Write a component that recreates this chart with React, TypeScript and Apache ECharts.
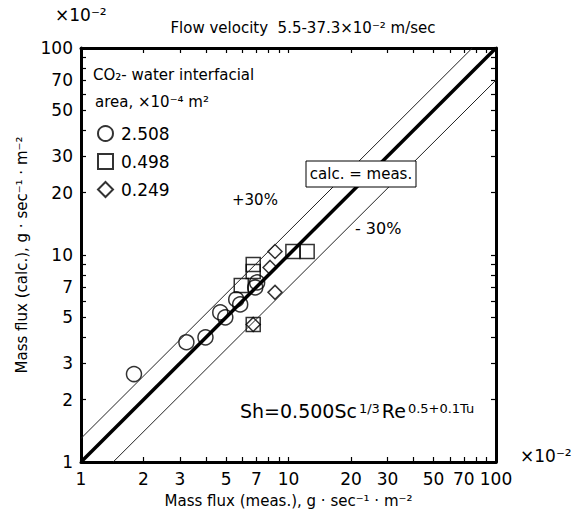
import React, { useEffect, useRef } from "react";
import * as echarts from "echarts";

const TICK_VALUES = [1, 2, 3, 4, 5, 6, 7, 8, 9, 10, 20, 30, 40, 50, 60, 70, 80, 90, 100];
const TICK_LABELS = [1, 2, 3, 5, 7, 10, 20, 30, 50, 70, 100];

// [meas, calc] in ×10^-2 g·sec^-1·m^-2
const AREA_2508: [number, number][] = [
  [1.8, 2.66], [3.22, 3.79], [3.98, 4.0], [4.69, 5.28], [4.96, 5.0],
  [5.6, 6.1], [5.85, 5.77], [6.91, 6.97], [7.06, 7.37],
];
const AREA_0498: [number, number][] = [
  [5.92, 7.13], [6.76, 9.0], [6.76, 8.33], [10.5, 10.4], [12.3, 10.4], [6.76, 4.62],
];
const AREA_0249: [number, number][] = [
  [8.61, 10.4], [8.15, 8.71], [8.61, 6.6], [6.76, 4.62],
];
const LINE_EQUAL: [number, number][] = [[1, 1], [100, 100]];
const LINE_PLUS30: [number, number][] = [[1, 1.3], [100 / 1.3, 100]];
const LINE_MINUS30: [number, number][] = [[1 / 0.7, 1], [100, 70]];

const FONT = "DejaVu Sans";

export default function App() {
  const ref = useRef<HTMLDivElement>(null);
  useEffect(() => {
    document.body.style.margin = "0";
    if (!ref.current) return;
    const chart = echarts.init(ref.current, null, { renderer: "svg" });
    const axisCommon = (pos: string, showLabel: boolean) => ({
      type: "log",
      logBase: 10,
      min: 1,
      max: 100,
      position: pos,
      axisLine: { show: true, onZero: false, lineStyle: { color: "#000", width: 3 } },
      axisTick: {
        show: true,
        inside: true,
        length: 5,
        customValues: TICK_VALUES,
        lineStyle: { color: "#000", width: 1.2 },
      },
      minorTick: { show: false },
      splitLine: { show: false },
      axisLabel: {
        show: showLabel,
        customValues: TICK_LABELS,
        color: "#000",
        fontSize: 17,
        fontFamily: FONT,
        margin: 8,
        formatter: (v: number) => String(Math.round(v)),
      },
    });
    const markerStyle = { color: "rgba(0,0,0,0)", borderColor: "#000", borderWidth: 1.5 };
    chart.setOption({
      animation: false,
      backgroundColor: "#fff",
      grid: { left: 81, top: 48, right: 91, bottom: 53, containLabel: false },
      xAxis: [
        {
          ...axisCommon("bottom", true),
          name: "Mass flux (meas.), g · sec⁻¹ · m⁻²",
          nameLocation: "middle",
          nameGap: 31,
          nameTextStyle: { color: "#000", fontSize: 15, fontFamily: FONT },
        },
        axisCommon("top", false),
      ],
      yAxis: [
        {
          ...axisCommon("left", true),
          name: "Mass flux (calc.), g · sec⁻¹ · m⁻²",
          nameLocation: "middle",
          nameGap: 52,
          nameTextStyle: { color: "#000", fontSize: 15, fontFamily: FONT },
        },
        axisCommon("right", false),
      ],
      legend: {
        orient: "vertical",
        left: 92,
        top: 120,
        itemGap: 11,
        itemWidth: 15,
        itemHeight: 15,
        data: ["2.508", "0.498", "0.249"],
        textStyle: { color: "#000", fontSize: 17, fontFamily: FONT, padding: [0, 0, 0, 3] },
      },
      series: [
        {
          type: "line",
          data: LINE_EQUAL,
          symbol: "none",
          lineStyle: { color: "#000", width: 3.5 },
          silent: true,
        },
        {
          type: "line",
          data: LINE_PLUS30,
          symbol: "none",
          lineStyle: { color: "#222", width: 1 },
          silent: true,
        },
        {
          type: "line",
          data: LINE_MINUS30,
          symbol: "none",
          lineStyle: { color: "#222", width: 1 },
          silent: true,
        },
        {
          name: "2.508",
          type: "scatter",
          data: AREA_2508,
          symbol: "circle",
          symbolSize: 15,
          itemStyle: markerStyle,
        },
        {
          name: "0.498",
          type: "scatter",
          data: AREA_0498,
          symbol: "rect",
          symbolSize: 14,
          itemStyle: markerStyle,
        },
        {
          name: "0.249",
          type: "scatter",
          data: AREA_0249,
          symbol: "diamond",
          symbolSize: [14, 14],
          itemStyle: markerStyle,
        },
      ],
      graphic: [
        {
          type: "text",
          x: 303,
          y: 28,
          style: {
            text: "Flow velocity  5.5-37.3×10⁻² m/sec",
            fill: "#000",
            font: `15px "${FONT}"`,
            textAlign: "center",
            textVerticalAlign: "middle",
          },
        },
        {
          type: "text",
          x: 55,
          y: 15,
          style: { text: "×10⁻²", fill: "#000", font: `17px "${FONT}"`, textVerticalAlign: "middle" },
        },
        {
          type: "text",
          x: 520,
          y: 456,
          style: { text: "×10⁻²", fill: "#000", font: `17px "${FONT}"`, textVerticalAlign: "middle" },
        },
        {
          type: "text",
          x: 93,
          y: 75,
          style: { text: "CO₂- water interfacial", fill: "#000", font: `15px "${FONT}"`, textVerticalAlign: "middle" },
        },
        {
          type: "text",
          x: 95,
          y: 102,
          style: { text: "area, ×10⁻⁴ m²", fill: "#000", font: `15px "${FONT}"`, textVerticalAlign: "middle" },
        },
        {
          type: "text",
          x: 232,
          y: 200,
          style: { text: "+30%", fill: "#000", font: `15px "${FONT}"`, textVerticalAlign: "middle" },
        },
        {
          type: "text",
          x: 355,
          y: 228,
          style: { text: "- 30%", fill: "#000", font: `16px "${FONT}"`, textVerticalAlign: "middle" },
        },
        {
          type: "rect",
          shape: { x: 306, y: 161, width: 110, height: 26 },
          style: { fill: "#fff", stroke: "#000", lineWidth: 1 },
          z: 10,
        },
        {
          type: "text",
          x: 361,
          y: 174,
          z: 11,
          style: {
            text: "calc. = meas.",
            fill: "#000",
            font: `15px "${FONT}"`,
            textAlign: "center",
            textVerticalAlign: "middle",
          },
        },
        {
          type: "text",
          x: 240,
          y: 411,
          style: {
            text: "{b|Sh=0.500Sc}{s|1/3}{b|Re}{s|0.5+0.1Tu}",
            rich: {
              b: { fontSize: 19, fontFamily: FONT, fill: "#000", verticalAlign: "bottom", padding: [0, 1, 0, 0] },
              s: { fontSize: 13, fontFamily: FONT, fill: "#000", verticalAlign: "top", padding: [0, 2, 0, 1] },
            },
            textVerticalAlign: "middle",
          },
        },
      ],
    });
    return () => chart.dispose();
  }, []);
  return <div ref={ref} style={{ width: 587, height: 515 }} />;
}
